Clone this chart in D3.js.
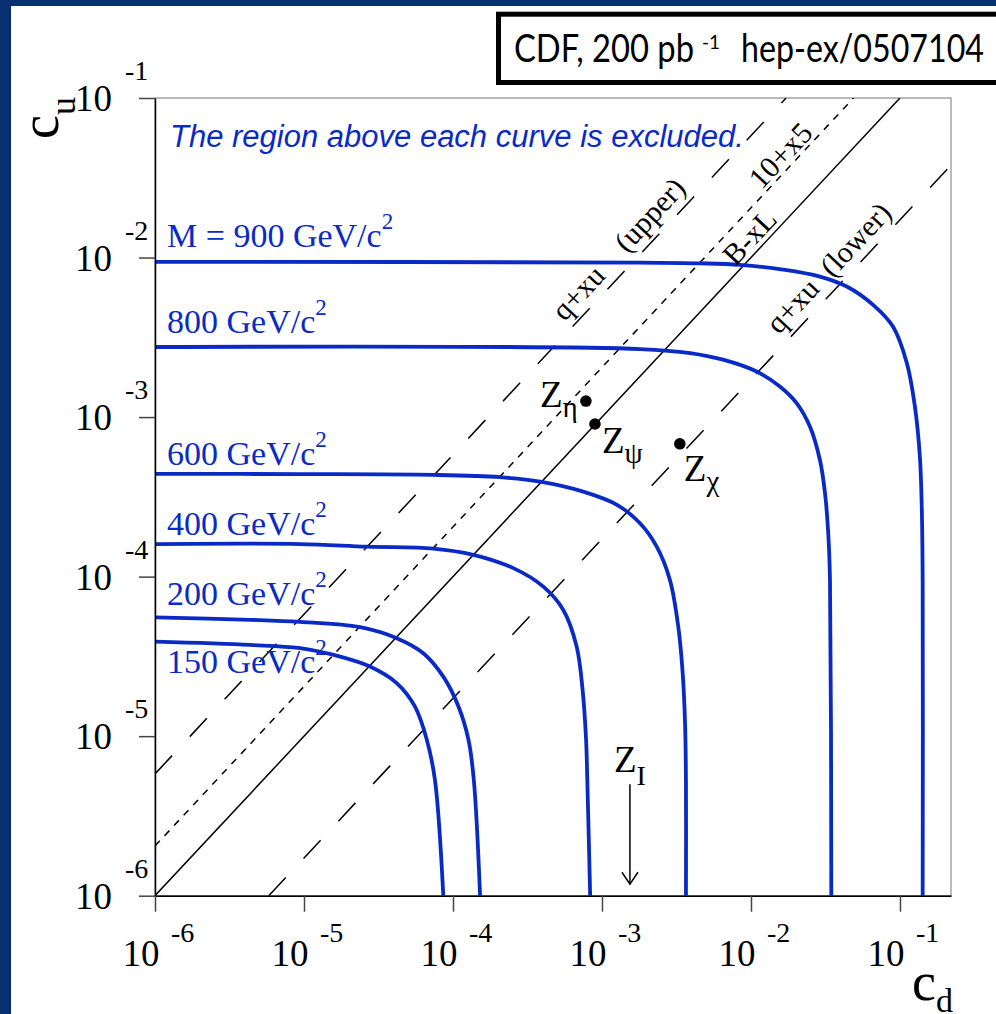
<!DOCTYPE html>
<html>
<head>
<meta charset="utf-8">
<script src="https://cdn.jsdelivr.net/npm/d3@7"></script>
<style>
  body { margin: 0; background: #fff; }
  svg { display: block; }
</style>
</head>
<body>
<script>
// axis ranges
var cdRange = [1e-6, 0.22];
var cuRange = [1e-6, 1e-1];
var xTickExp = [-6, -5, -4, -3, -2, -1];
var yTickExp = [-1, -2, -3, -4, -5, -6];

// limit curves, points read as [cd, cu]
var curve900 = [[1e-6, 9.4e-3], [1.8e-3, 9.3e-3], [4.55e-3, 9.2e-3], [8.43e-3, 9.0e-3], [1.64e-2, 8.4e-3],
  [2.9e-2, 7.6e-3], [4.39e-2, 6.58e-3], [6.6e-2, 5.05e-3], [8.97e-2, 3.69e-3], [0.111, 2.19e-3],
  [0.126, 1.16e-3], [0.136, 5.65e-4], [0.140, 2.75e-4], [0.142, 9.5e-5], [0.142, 1e-6]];
var curve800 = [[1e-6, 2.75e-3], [1.8e-3, 2.67e-3], [3.9e-3, 2.52e-3], [6.49e-3, 2.29e-3], [1.09e-2, 1.93e-3],
  [1.57e-2, 1.55e-3], [2.03e-2, 1.22e-3], [2.49e-2, 8.7e-4], [2.9e-2, 5.4e-4], [3.14e-2, 3.33e-4],
  [3.3e-2, 1.87e-4], [3.39e-2, 9.5e-5], [3.46e-2, 1e-6]];
var curve600 = [[1e-6, 4.41e-4], [9.4e-6, 4.39e-4], [7.38e-5, 4.34e-4], [2.07e-4, 4.2e-4], [3.84e-4, 3.94e-4],
  [7.48e-4, 3.41e-4], [1.26e-3, 2.82e-4], [1.8e-3, 2.16e-4], [2.33e-3, 1.54e-4], [2.86e-3, 9.5e-5],
  [3.25e-3, 4.86e-5], [3.48e-3, 2.48e-5], [3.61e-3, 1.2e-5], [3.66e-3, 5.3e-6], [3.66e-3, 1e-6]];
var curve400 = [[1e-6, 1.6e-4], [9.4e-6, 1.6e-4], [2.64e-5, 1.54e-4], [7.38e-5, 1.5e-4], [1.37e-4, 1.37e-4],
  [2.54e-4, 1.13e-4], [4.04e-4, 8.65e-5], [5.5e-4, 6.18e-5], [6.76e-4, 3.64e-5], [7.41e-4, 1.95e-5],
  [7.82e-4, 9.5e-6], [7.97e-4, 5.3e-6], [8.33e-4, 1e-6]];
var curve200 = [[1e-6, 5.55e-5], [4.35e-6, 5.36e-5], [9.4e-6, 5.2e-5], [2.38e-5, 4.82e-5], [4.19e-5, 4.11e-5],
  [6.32e-5, 3.31e-5], [8.61e-5, 2.36e-5], [1.09e-4, 1.53e-5], [1.27e-4, 9.5e-6], [1.38e-4, 5.3e-6],
  [1.52e-4, 1e-6]];
var curve150 = [[1e-6, 3.91e-5], [4.35e-6, 3.73e-5], [9.4e-6, 3.56e-5], [1.75e-5, 3.15e-5], [2.77e-5, 2.73e-5],
  [4.19e-5, 2.15e-5], [5.56e-5, 1.53e-5], [6.67e-5, 9.5e-6], [7.57e-5, 5.3e-6], [8.61e-5, 1e-6]];
var curves = [curve900, curve800, curve600, curve400, curve200, curve150];
var massLabels = ["M = 900 GeV/c", "800 GeV/c", "600 GeV/c", "400 GeV/c", "200 GeV/c", "150 GeV/c"];

// model lines, end points [cd, cu]
var lineBxL = [[1e-6, 1e-6], [0.1, 0.1]];
var line10x5 = [[1e-6, 2.05e-6], [4.88e-2, 0.1]];
var lineUpper = [[1e-6, 5.8e-6], [1.72e-2, 0.1]];
var lineLower = [[5.8e-6, 1e-6], [0.22, 3.79e-2]];

var lineLabelText = ["q+xu", "(upper)", "10+x5", "B-xL", "q+xu", "(lower)"];
var lineLabelCd = [8.6e-4, 2.62e-3, 1.85e-2, 1.16e-2, 2.38e-2, 6.25e-2];
var lineLabelRatio = [5.8, 5.8, 2.05, 1, 0.172, 0.172];

// Z' models
var zNames = ["η", "ψ", "χ"];
var zCd = [7.8e-4, 8.97e-4, 3.33e-3];
var zCu = [1.26e-3, 9.05e-4, 6.8e-4];
var zICd = 1.54e-3;
var zICu = [5.0e-6, 1.18e-6];

var W = 996, H = 1014;
var serif = '"Liberation Serif", "Times New Roman", serif';
var blue = '#0a2ac6';

var svg = d3.select('body').append('svg').attr('width', W).attr('height', H);
svg.append('rect').attr('width', W).attr('height', H).attr('fill', '#072f72');
svg.append('rect').attr('x', 11).attr('y', 6).attr('width', W - 11).attr('height', H - 6).attr('fill', '#fff');

var x = d3.scaleLog().domain(cdRange).range([155, 951]);
var y = d3.scaleLog().domain(cuRange).range([895.7, 98]);

svg.append('clipPath').attr('id', 'plot')
  .append('rect').attr('x', 155).attr('y', 98).attr('width', 796).attr('height', 797.7);

// frame
svg.append('rect').attr('x', 155).attr('y', 98).attr('width', 796).attr('height', 797.7)
  .attr('fill', 'none').attr('stroke', '#777').attr('stroke-width', 1);

var plot = svg.append('g').attr('clip-path', 'url(#plot)');

var line = d3.line().x(function(d) { return x(d[0]); }).y(function(d) { return y(d[1]); });
var smooth = d3.line().x(function(d) { return x(d[0]); }).y(function(d) { return y(d[1]); })
  .curve(d3.curveCatmullRom.alpha(0.5));

// model lines
plot.append('path').attr('d', line(lineBxL)).attr('stroke', '#000').attr('stroke-width', 1.5).attr('fill', 'none');
plot.append('path').attr('d', line(line10x5)).attr('stroke', '#000').attr('stroke-width', 1.5)
  .attr('stroke-dasharray', '7,7').attr('fill', 'none');
plot.append('path').attr('d', line(lineUpper)).attr('stroke', '#000').attr('stroke-width', 1.5)
  .attr('stroke-dasharray', '25,26').attr('fill', 'none');
plot.append('path').attr('d', line(lineLower)).attr('stroke', '#000').attr('stroke-width', 1.5)
  .attr('stroke-dasharray', '25,26').attr('fill', 'none');

// limit curves
curves.forEach(function(c) {
  plot.append('path').attr('d', smooth(c)).attr('stroke', blue).attr('stroke-width', 3.8)
    .attr('fill', 'none');
});

// mass labels
var massOffset = [-15, -14, -9, -9, -12, 31];
massLabels.forEach(function(t, i) {
  var tx = svg.append('text').attr('x', 167).attr('y', y(curves[i][0][1]) + massOffset[i])
    .attr('font-family', serif).attr('font-size', 34).attr('fill', blue).text(t);
  tx.append('tspan').attr('dy', -18).attr('font-size', 23).text('2');
});

// rotated line labels
var ang = Math.atan2(y(1e-6) - y(1e-5), x(1e-5) - x(1e-6));
var baseOff = [9, 10, 4, 5, 10, 9];
lineLabelText.forEach(function(t, i) {
  var cd = lineLabelCd[i];
  var px = x(cd), py = y(cd * lineLabelRatio[i]);
  px -= Math.sin(ang) * baseOff[i];
  py -= Math.cos(ang) * baseOff[i];
  svg.append('text').attr('transform', 'translate(' + px + ',' + py + ') rotate(' + (-ang * 180 / Math.PI) + ')')
    .attr('text-anchor', 'middle').attr('font-family', serif).attr('font-size', 30).text(t);
});

svg.append('text').attr('x', 170).attr('y', 147).attr('font-family', '"Liberation Sans", Arial, sans-serif')
  .attr('font-style', 'italic').attr('font-size', 31).attr('fill', blue)
  .text('The region above each curve is excluded.');

// Z' points
var zOff = [[-46, 6], [7, 29], [4, 37]];
zNames.forEach(function(n, i) {
  var px = x(zCd[i]), py = y(zCu[i]);
  svg.append('circle').attr('cx', px).attr('cy', py).attr('r', 5.8).attr('fill', '#000');
  var t = svg.append('text').attr('x', px + zOff[i][0]).attr('y', py + zOff[i][1])
    .attr('font-family', serif).attr('font-size', 37).text('Z');
  t.append('tspan').attr('dy', 10).attr('font-size', 29).text(n);
});

// Z_I arrow
var ax = x(zICd), ay0 = y(zICu[0]), ay1 = y(zICu[1]);
svg.append('line').attr('x1', ax).attr('x2', ax).attr('y1', ay0).attr('y2', ay1)
  .attr('stroke', '#000').attr('stroke-width', 1.5);
svg.append('path').attr('d', 'M' + (ax - 8) + ',' + (ay1 - 12) + 'L' + ax + ',' + ay1 + 'L' + (ax + 8) + ',' + (ay1 - 12))
  .attr('stroke', '#000').attr('stroke-width', 1.5).attr('fill', 'none');
var zi = svg.append('text').attr('x', ax - 16).attr('y', ay0 - 12).attr('font-family', serif)
  .attr('font-size', 37).text('Z');
zi.append('tspan').attr('dy', 13).attr('font-size', 28).text('I');

// axes
function isMajor(v) { return Math.abs(Math.log10(v) - Math.round(Math.log10(v))) < 1e-6; }
var xt = x.ticks(), yt = y.ticks();

var gx = svg.append('g').attr('transform', 'translate(0,895.7)');
gx.call(d3.axisBottom(x).tickValues(xt.filter(function(v) { return !isMajor(v); })).tickSize(8).tickSizeOuter(0).tickFormat(''));
gx.call(d3.axisBottom(x).tickValues(xt.filter(isMajor)).tickSize(16).tickSizeOuter(0).tickFormat(''));
var gy = svg.append('g').attr('transform', 'translate(155,0)');
gy.call(d3.axisLeft(y).tickValues(yt.filter(function(v) { return !isMajor(v); })).tickSize(8).tickSizeOuter(0).tickFormat(''));
gy.call(d3.axisLeft(y).tickValues(yt.filter(isMajor)).tickSize(16).tickSizeOuter(0).tickFormat(''));
svg.selectAll('.tick line').attr('stroke', '#444').attr('stroke-width', 1.5);
svg.selectAll('.domain').attr('stroke', '#000').attr('stroke-width', 1.5);

xTickExp.forEach(function(e) {
  var px = x(Math.pow(10, e));
  svg.append('text').attr('x', px + 4.5).attr('y', 966).attr('text-anchor', 'end')
    .attr('font-family', serif).attr('font-size', 37).text('10');
  svg.append('text').attr('x', px + 16).attr('y', 942).attr('font-family', serif)
    .attr('font-size', 28).text(e);
});
yTickExp.forEach(function(e) {
  var py = y(Math.pow(10, e));
  svg.append('text').attr('x', 112).attr('y', py + 13).attr('text-anchor', 'end')
    .attr('font-family', serif).attr('font-size', 37).text('10');
  svg.append('text').attr('x', 125).attr('y', py - 18).attr('font-family', serif)
    .attr('font-size', 28).text(e);
});

// axis titles
var ty = svg.append('text').attr('transform', 'translate(58,139) rotate(-90)')
  .attr('font-family', serif).attr('font-size', 54).text('c');
ty.append('tspan').attr('dy', 17).attr('font-size', 36).text('u');
var tx = svg.append('text').attr('x', 912).attr('y', 1000).attr('font-family', serif)
  .attr('font-size', 54).text('c');
tx.append('tspan').attr('dy', 12).attr('font-size', 34).text('d');

// title box
svg.append('rect').attr('x', 498.5).attr('y', 14.2).attr('width', 520).attr('height', 68.3)
  .attr('fill', '#fff').attr('stroke', '#000').attr('stroke-width', 5);
var gill = '"Gill Sans", Lato, "Open Sans", sans-serif';
svg.append('text').attr('x', 514).attr('y', 62).attr('font-family', gill).attr('font-size', 39)
  .attr('textLength', 180).attr('lengthAdjust', 'spacingAndGlyphs').text('CDF, 200 pb');
svg.append('text').attr('x', 702).attr('y', 49).attr('font-family', gill).attr('font-size', 19)
  .text('-1');
svg.append('text').attr('x', 741).attr('y', 62).attr('font-family', gill).attr('font-size', 39)
  .attr('textLength', 243).attr('lengthAdjust', 'spacingAndGlyphs').text('hep-ex/0507104');
</script>
</body>
</html>
